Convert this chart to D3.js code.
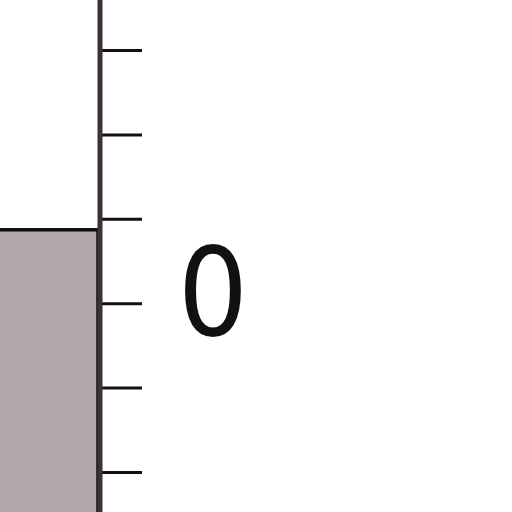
<!DOCTYPE html>
<html>
<head>
<meta charset="utf-8">
<script src="https://cdn.jsdelivr.net/npm/d3@7"></script>
<style>
  html, body { margin: 0; padding: 0; background: #fff; }
  svg { display: block; }
</style>
</head>
<body>
<div id="chart"></div>
<script>
// data
const categories = ["A"];
const values = [2.87];
const tickValues = [0, 1, 2, 3, 4, 5];
const labelText = "0";

const width = 512, height = 512;
const axisX = 100;

const svg = d3.select("#chart")
  .append("svg")
  .attr("width", width)
  .attr("height", height);

// scales
const yScale = d3.scaleLinear()
  .domain([0, 5])
  .range([472, 50]);

const xScale = d3.scaleBand()
  .domain(categories)
  .range([-300, axisX - 2])
  .padding(0);

// bars
svg.selectAll("rect.bar")
  .data(values)
  .enter()
  .append("rect")
    .attr("class", "bar")
    .attr("x", (d, i) => xScale(categories[i]))
    .attr("y", d => yScale(d))
    .attr("width", xScale.bandwidth())
    .attr("height", d => yScale(-2) - yScale(d))
    .attr("fill", "#b2a6ab")
    .attr("stroke", "#111")
    .attr("stroke-width", 3.5);

// axis
const yAxis = d3.axisRight(yScale)
  .tickValues(tickValues)
  .tickSize(42)
  .tickFormat("");

const g = svg.append("g")
  .attr("transform", `translate(${axisX}, 0)`)
  .call(yAxis);

g.select(".domain").remove();
g.selectAll(".tick line")
  .attr("stroke", "#111")
  .attr("stroke-width", 3);

g.append("line")
  .attr("x1", 0).attr("x2", 0)
  .attr("y1", 0).attr("y2", height)
  .attr("stroke", "#3b3337")
  .attr("stroke-width", 5);

// label
svg.append("text")
  .attr("x", 213)
  .attr("y", 335)
  .attr("text-anchor", "middle")
  .attr("font-family", "DejaVu Sans Condensed, DejaVu Sans, sans-serif")
  .attr("font-stretch", "condensed")
  .attr("font-size", 123)
  .attr("fill", "#111")
  .text(labelText);
</script>
</body>
</html>
